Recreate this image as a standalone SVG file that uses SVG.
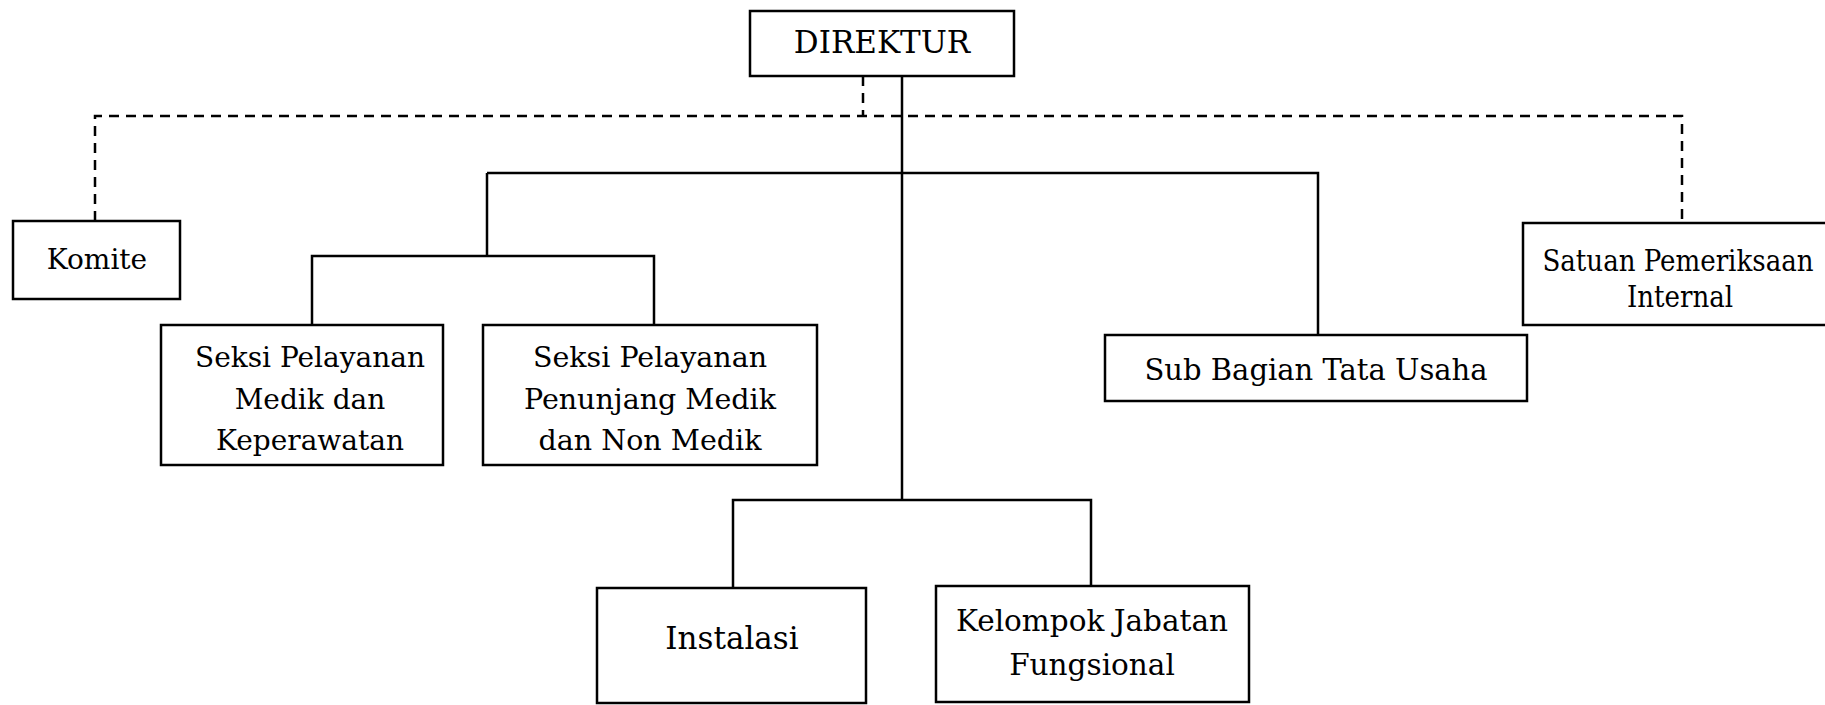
<svg xmlns="http://www.w3.org/2000/svg" width="1825" height="705" viewBox="0 0 1825 705">
<style>
.box{fill:#fff;stroke:#000;stroke-width:2.5}
.t{font-family:"DejaVu Serif","Liberation Serif",serif;font-size:28px;fill:#000;text-anchor:middle}
.cd{font-family:"DejaVu Serif Condensed","DejaVu Serif","Liberation Serif",serif;font-stretch:condensed}
.c{fill:none;stroke:#000;stroke-width:2.5}
.d{fill:none;stroke:#000;stroke-width:2.5;stroke-dasharray:10 7}
</style>
<rect width="1825" height="705" fill="#fff"/>
<g id="connectors">
<path class="d" d="M863,76 V116 M95,221 V116 H1682 V223"/>
<path class="c" d="M902,76 V500 M487,173 H1318 V335 M487,173 V256 M312,325 V256 H654 V325 M733,588 V500 H1091 V586"/>
</g>
<g id="direktur"><rect class="box" x="750" y="11" width="264" height="65"/><text class="t" x="882" y="53" style="font-size:31px">DIREKTUR</text></g>
<g id="komite"><rect class="box" x="13" y="221" width="167" height="78"/><text class="t" x="97" y="269">Komite</text></g>
<g id="seksi-medik"><rect class="box" x="161" y="325" width="282" height="140"/><text class="t" x="310" y="367">Seksi Pelayanan</text><text class="t" x="310" y="409">Medik dan</text><text class="t" x="310" y="450">Keperawatan</text></g>
<g id="seksi-penunjang"><rect class="box" x="483" y="325" width="334" height="140"/><text class="t" x="650" y="367" style="font-size:28.5px">Seksi Pelayanan</text><text class="t" x="650" y="409" style="font-size:28.5px">Penunjang Medik</text><text class="t" x="650" y="450" style="font-size:28.5px">dan Non Medik</text></g>
<g id="sub-bagian"><rect class="box" x="1105" y="335" width="422" height="66"/><text class="t" x="1316" y="380" style="font-size:29px">Sub Bagian Tata Usaha</text></g>
<g id="satuan"><path class="box" d="M1825,223 H1523 V325 H1825"/><text class="t cd" x="1678" y="271" style="font-size:29px">Satuan Pemeriksaan</text><text class="t cd" x="1680" y="307" style="font-size:29px">Internal</text></g>
<g id="instalasi"><rect class="box" x="597" y="588" width="269" height="115"/><text class="t" x="732" y="649" style="font-size:31px">Instalasi</text></g>
<g id="kelompok"><rect class="box" x="936" y="586" width="313" height="116"/><text class="t" x="1092" y="631" style="font-size:29.5px">Kelompok Jabatan</text><text class="t" x="1092" y="675" style="font-size:29.5px">Fungsional</text></g>
</svg>
